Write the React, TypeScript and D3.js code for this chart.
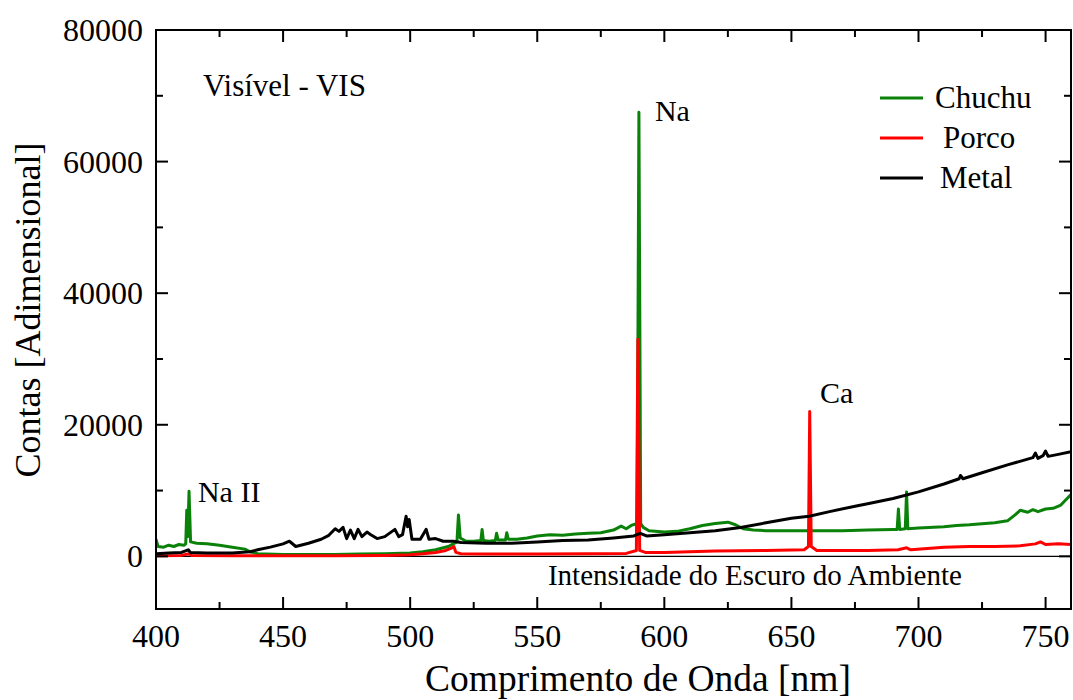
import React from "react";
import * as d3 from "d3";

const seriesNames = ["Chuchu", "Porco", "Metal"];
const seriesColors = ["#0a820a", "#ff0000", "#000000"];

const chuchu: [number, number][] = [
  [400, 2600], [400.8, 1500], [403, 1400], [405, 1700], [407, 1500], [409, 1800], [411, 1700],
  [411.7, 1900], [412.1, 7000], [412.5, 3000], [413.0, 9900], [413.6, 2200], [416, 2000], [420, 1900],
  [425, 1700], [430, 1400], [435, 1100], [437, 700], [440, 400], [450, 300], [460, 300], [470, 300],
  [480, 350], [490, 400], [500, 500], [505, 700], [510, 1000], [515, 1500], [518.4, 2200],
  [519.0, 6300], [519.7, 2800], [522, 2300], [525, 2300], [527.8, 2400], [528.3, 4100], [528.8, 2400],
  [531, 2300], [533.5, 2400], [534, 3500], [534.6, 2500], [537.5, 2500], [538, 3600], [538.6, 2600],
  [542, 2600], [546, 2800], [550, 3100], [555, 3300], [560, 3200], [565, 3400], [570, 3500],
  [575, 3600], [580, 4000], [583, 4600], [585, 4200], [587, 4700], [589.3, 5000], [590.0, 67500],
  [590.7, 5000], [591.7, 4400], [594, 3900], [600, 3700], [605, 3800], [610, 4200], [615, 4700],
  [620, 5000], [625, 5200], [628, 4800], [631, 4200], [635, 4000], [640, 3900], [650, 3900],
  [660, 3900], [670, 3900], [680, 4000], [690, 4100], [691.6, 4100], [692.1, 7200], [692.6, 4100],
  [694.8, 4200], [695.3, 9800], [695.8, 4200], [700, 4300], [710, 4500], [715, 4700], [720, 4800],
  [730, 5100], [735, 5400], [738, 6300], [740, 7000], [743, 6700], [745, 7100], [747, 6800],
  [750, 7200], [753, 7300], [756, 7800], [758, 8600], [760, 9400],
];

const porco: [number, number][] = [
  [400, 100], [410, 150], [413, 400], [414, 150], [430, 100], [450, 100], [470, 100], [490, 150],
  [500, 250], [505, 400], [510, 600], [514, 900], [516.5, 1300], [517.2, 1500], [518, 600],
  [520, 400], [530, 350], [550, 350], [570, 400], [585, 450], [589.0, 900], [589.6, 33000],
  [590.3, 900], [592.5, 600], [600, 600], [620, 800], [640, 900], [655, 1000], [656.7, 1500],
  [657.2, 22000], [657.8, 1500], [660, 900], [680, 900], [692, 1000], [695.3, 1300], [697, 1000],
  [710, 1400], [720, 1500], [730, 1500], [740, 1600], [746, 1900], [748, 2200], [750, 1800],
  [755, 1900], [760, 1800],
];

const metal: [number, number][] = [
  [400, 400], [405, 500], [410, 600], [412.7, 1000], [413.5, 600], [420, 500], [430, 500],
  [437, 700], [440, 1000], [445, 1400], [450, 1900], [452.5, 2300], [455, 1500], [460, 2000],
  [465, 2600], [468, 3200], [470.5, 4200], [472, 3800], [473.6, 4400], [475, 2700], [476.5, 4000],
  [478, 2700], [479.5, 4100], [481, 3000], [483, 3700], [484.5, 3300], [487, 2700], [490, 3000],
  [494, 4100], [495.5, 3000], [497, 3300], [498.4, 6100], [499, 4500], [499.6, 5600], [500.7, 2600],
  [504, 2600], [506.3, 4100], [507.4, 2600], [510, 2700], [513, 2300], [517, 2300], [520, 2100],
  [530, 2000], [540, 2000], [550, 2200], [560, 2400], [570, 2500], [580, 2800], [588, 3100],
  [590.5, 3500], [593, 3100], [600, 3300], [610, 3600], [620, 3900], [630, 4400], [640, 5100],
  [650, 5800], [657, 6100], [665, 6800], [676, 7700], [680, 8000], [690, 8800], [700, 9800],
  [710, 11000], [716, 11800], [716.5, 12300], [717.5, 11800], [725, 12700], [735, 13900],
  [745, 15000], [746, 15700], [747, 14900], [749, 15300], [750, 16000], [751, 15200],
  [755, 15500], [760, 15900],
];

const xTicks = [400, 450, 500, 550, 600, 650, 700, 750];
const xMinorTicks = [425, 475, 525, 575, 625, 675, 725];
const yTicks = [0, 20000, 40000, 60000, 80000];
const yMinorTicks = [10000, 30000, 50000, 70000];

const xTitle = "Comprimento de Onda [nm]";
const yTitle = "Contas [Adimensional]";

const annotations = [
  { text: "Visível - VIS", x: 418.5, y: 70000 },
  { text: "Na", x: 596.3, y: 66200 },
  { text: "Ca", x: 661.2, y: 23300 },
  { text: "Na II", x: 416.5, y: 8300 },
  { text: "Intensidade do Escuro do Ambiente", x: 554.2, y: -4300 },
];

export default function App() {
  const W = 1073, H = 700;
  const L = 156, R = 1071, T = 30, B = 609;
  const x = d3.scaleLinear().domain([400, 760]).range([L, R]);
  const y = d3.scaleLinear().domain([-8000, 80000]).range([B, T]);
  const line = d3.line<[number, number]>().x((d) => x(d[0])).y((d) => y(d[1]));
  const data = [chuchu, porco, metal];
  const font = "'Liberation Serif', 'Times New Roman', serif";
  const legendY = [98, 138, 178];
  const legendTextX = [935, 943, 940];

  return (
    <svg width={W} height={H} style={{ position: "absolute", left: 0, top: 0, background: "#fff" }} fontFamily={font}>
      <defs>
        <clipPath id="plot">
          <rect x={L} y={T} width={R - L} height={B - T} />
        </clipPath>
      </defs>
      <rect x={0} y={0} width={W} height={H} fill="#fff" />
      <line x1={L} x2={R} y1={y(0)} y2={y(0)} stroke="#000" strokeWidth={1.2} />
      <g clipPath="url(#plot)" fill="none" strokeLinejoin="round" strokeWidth={3}>
        {data.map((s, i) => (
          <path key={i} d={line(s) || ""} stroke={seriesColors[i]} />
        ))}
      </g>
      <rect x={L} y={T} width={R - L} height={B - T} fill="none" stroke="#000" strokeWidth={2} />
      {xTicks.map((t) => (
        <g key={"xt" + t}>
          <line x1={x(t)} x2={x(t)} y1={B} y2={B - 12} stroke="#000" strokeWidth={2} />
          <line x1={x(t)} x2={x(t)} y1={T} y2={T + 12} stroke="#000" strokeWidth={2} />
          <text x={x(t)} y={647} textAnchor="middle" fontSize={32}>{t}</text>
        </g>
      ))}
      {xMinorTicks.map((t) => (
        <g key={"xm" + t}>
          <line x1={x(t)} x2={x(t)} y1={B} y2={B - 7} stroke="#000" strokeWidth={2} />
          <line x1={x(t)} x2={x(t)} y1={T} y2={T + 7} stroke="#000" strokeWidth={2} />
        </g>
      ))}
      {yTicks.map((t) => (
        <g key={"yt" + t}>
          <line x1={L} x2={L + 12} y1={y(t)} y2={y(t)} stroke="#000" strokeWidth={2} />
          <line x1={R} x2={R - 12} y1={y(t)} y2={y(t)} stroke="#000" strokeWidth={2} />
          <text x={143} y={y(t) + 11} textAnchor="end" fontSize={32}>{t}</text>
        </g>
      ))}
      {yMinorTicks.map((t) => (
        <g key={"ym" + t}>
          <line x1={L} x2={L + 7} y1={y(t)} y2={y(t)} stroke="#000" strokeWidth={2} />
          <line x1={R} x2={R - 7} y1={y(t)} y2={y(t)} stroke="#000" strokeWidth={2} />
        </g>
      ))}
      <text x={638} y={691} textAnchor="middle" fontSize={37.5}>{xTitle}</text>
      <text transform={`translate(40, 310) rotate(-90)`} textAnchor="middle" fontSize={36}>{yTitle}</text>
      {annotations.map((a, i) => (
        <text key={"an" + i} x={x(a.x)} y={y(a.y)} fontSize={i === 0 ? 31 : i === 4 ? 29 : 30}>{a.text}</text>
      ))}
      {seriesNames.map((n, i) => (
        <g key={"lg" + n}>
          <line x1={880} x2={923} y1={legendY[i]} y2={legendY[i]} stroke={seriesColors[i]} strokeWidth={3} />
          <text x={legendTextX[i]} y={legendY[i] + 10} fontSize={31}>{n}</text>
        </g>
      ))}
    </svg>
  );
}
